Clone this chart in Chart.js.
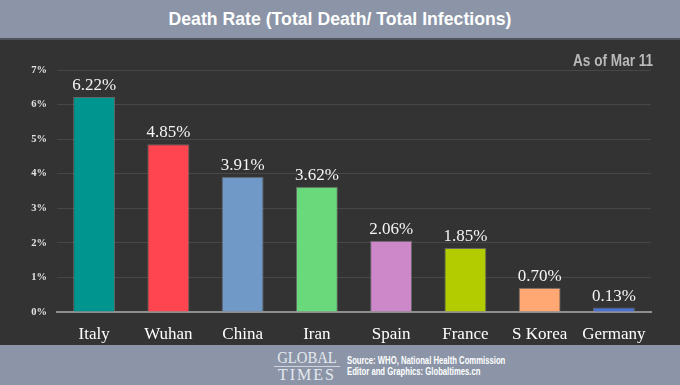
<!DOCTYPE html>
<html>
<head>
<meta charset="utf-8">
<script src="https://cdn.jsdelivr.net/npm/chart.js@4"></script>
<style>
  html, body { margin: 0; padding: 0; }
  body { width: 680px; height: 385px; overflow: hidden; background: #8b95a7; position: relative; font-family: "Liberation Sans", Arial, sans-serif; }
  #header { position: absolute; left: 0; top: 0; width: 680px; height: 38px; background: #8b95a7; border-bottom: 2px solid #4f535c; }
  #title { position: absolute; left: 0; top: 8px; width: 680px; text-align: center; color: #fff; font-weight: bold; font-size: 19px; transform: scaleX(0.93); }
  #plot { position: absolute; left: 0; top: 40px; width: 680px; height: 305px; background: #333333; }
  #asof { position: absolute; right: 27px; top: 11px; color: #b9b9b9; font-weight: bold; font-size: 17px; transform: scaleX(0.8); transform-origin: right center; }
  #footer { position: absolute; left: 0; top: 345px; width: 680px; height: 40px; background: #8b95a7; }
  #logo { position: absolute; left: 274px; top: 5px; width: 66px; color: #e6e9ef; font-family: "Liberation Serif", serif; font-size: 16px; line-height: 15px; text-align: center; }
  #logo .l1 { transform: scaleX(0.92); }
  #logo .l2 { letter-spacing: 2px; border-top: 1px solid #cfd4dc; margin-top: 1px; }
  #src { position: absolute; left: 347px; top: 10px; color: #fff; font-weight: bold; font-size: 11px; line-height: 11px; transform: scaleX(0.7); transform-origin: left top; white-space: nowrap; }
</style>
</head>
<body>
<div id="header"><div id="title">Death Rate (Total Death/ Total Infections)</div></div>
<div id="plot">
  <canvas id="chart" width="680" height="305"></canvas>
  <div id="asof">As of Mar 11</div>
</div>
<div id="footer">
  <div id="logo"><div class="l1">GLOBAL</div><div class="l2">TIMES</div></div>
  <div id="src">Source: WHO, National Health Commission<br>Editor and Graphics: Globaltimes.cn</div>
</div>
<script>
// Death rate by region, as of Mar 11
const regions = ["Italy", "Wuhan", "China", "Iran", "Spain", "France", "S Korea", "Germany"];
const deathRates = [6.22, 4.85, 3.91, 3.62, 2.06, 1.85, 0.70, 0.13];
const barColors = ["#00958f", "#ff4650", "#7099c8", "#6ad97b", "#cc88c8", "#b3cc00", "#ffa873", "#4a72d6"];
const yTicks = [0, 1, 2, 3, 4, 5, 6, 7];

// Percent labels above each bar
const valueLabels = {
    id: 'valueLabels',
    afterDatasetsDraw(chart) {
        const ctx = chart.ctx;
        const meta = chart.getDatasetMeta(0);
        ctx.save();
        ctx.fillStyle = '#f4f4f4';
        ctx.font = '17px "Liberation Serif", serif';
        ctx.textAlign = 'center';
        ctx.textBaseline = 'alphabetic';
        meta.data.forEach((bar, i) => {
            ctx.fillText(deathRates[i].toFixed(2) + '%', bar.x, bar.y - 7);
        });
        ctx.restore();
    }
};

function createChart() {
    const ctx = document.getElementById('chart').getContext('2d');
    new Chart(ctx, {
        type: 'bar',
        data: {
            labels: regions,
            datasets: [{
                data: deathRates,
                backgroundColor: barColors,
                borderColor: 'rgba(255,255,255,0.25)',
                borderWidth: 1,
                barPercentage: 0.565,
                categoryPercentage: 1
            }]
        },
        options: {
            responsive: false,
            animation: false,
            layout: { padding: { top: 30, right: 29, left: 0, bottom: 0 } },
            plugins: {
                legend: { display: false },
                tooltip: { enabled: false }
            },
            scales: {
                x: {
                    grid: { display: false },
                    border: { color: '#8e8e8e', width: 2 },
                    ticks: {
                        color: '#ffffff',
                        font: { family: '"Liberation Serif", serif', size: 17 },
                        padding: 4
                    },
                    afterFit(scale) { scale.height = 33; }
                },
                y: {
                    min: 0,
                    max: 7,
                    afterBuildTicks(scale) { scale.ticks = yTicks.map(v => ({ value: v })); },
                    grid: { color: '#474747', lineWidth: 1, drawTicks: false },
                    border: { display: false },
                    ticks: {
                        color: '#e2e2e2',
                        font: { family: '"Liberation Serif", serif', size: 10.5, weight: 'bold' },
                        padding: 10,
                        callback: v => v + '%'
                    },
                    afterFit(scale) { scale.width = 57; }
                }
            }
        },
        plugins: [valueLabels]
    });
}

createChart();
</script>
</body>
</html>
